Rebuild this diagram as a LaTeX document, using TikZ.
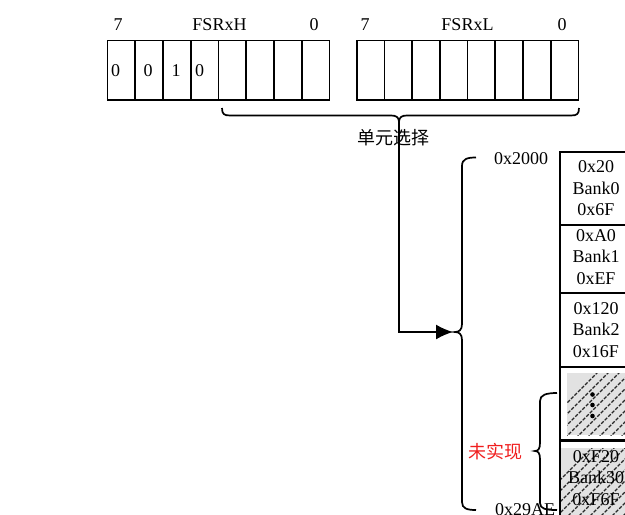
\documentclass[tikz,border=0pt]{standalone}
\usepackage{fontspec}
\setmainfont{Liberation Serif}
\newfontfamily\cjk{Noto Sans CJK SC}
\usetikzlibrary{arrows.meta}
\definecolor{hatchbg}{RGB}{226,226,226}
\definecolor{hatchln}{RGB}{40,40,40}
\definecolor{redtxt}{RGB}{240,30,30}
\begin{document}
\begin{tikzpicture}[x=1pt,y=-1pt,line width=1.7pt,
  txt/.style={inner sep=0pt,font=\fontsize{18}{21}\selectfont},
  cn/.style={inner sep=0pt,font=\cjk\fontsize{18}{21}\selectfont},
  cell/.style={draw,line width=1.7pt,minimum width=27.75pt,minimum height=59.5pt,anchor=north west,inner sep=0pt,outer sep=0pt},
  bankbox/.style={draw,line width=1.9pt,minimum width=72pt,anchor=north west,inner sep=0pt,outer sep=0pt},
  banktxt/.style={inner sep=0pt,align=center,font=\fontsize{18}{21.5}\selectfont},
  hatchline/.style={hatchln,line width=1.1pt,dash pattern=on 3.5pt off 1.5pt},
  brace/.style={line width=1.7pt}]
\useasboundingbox (0,0) rectangle (625,515);

% register cells
\foreach \i in {0,...,7}{
  \node[cell] (h\i) at ({107.5+27.75*\i},40.5) {};
  \node[cell] (l\i) at ({356.7+27.7*\i},40.5) {};
}
% register labels
\node[txt] (h7lab) at (118,25) {7};
\node[txt] (hname) at (219.5,25) {FSRxH};
\node[txt] (h0lab) at (314,25) {0};
\node[txt] (l7lab) at (365,25) {7};
\node[txt] (lname) at (467.5,25) {FSRxL};
\node[txt] (l0lab) at (562,25) {0};
% bit values
\node[txt] (b7) at (115.5,71) {0};
\node[txt] (b6) at (148,71) {0};
\node[txt] (b5) at (176,71) {1};
\node[txt] (b4) at (199.5,71) {0};

% brace under register
\draw[brace] (222,108) .. controls (222,114) and (224,115.5) .. (230,115.5) -- (391,115.5)
  .. controls (396,115.5) and (399,117) .. (399,122)
  .. controls (399,117) and (402,115.5) .. (407,115.5) -- (571,115.5)
  .. controls (577,115.5) and (579,114) .. (579,108);
\coordinate (regtip) at (399,122);
\node[cn] (sel) at (393,138) {单元选择};

% big brace
\draw[brace] (476,157.5) .. controls (467,157.5) and (462,159) .. (462,166) -- (462,324)
  .. controls (462,330) and (459,332) .. (455,332)
  .. controls (459,332) and (462,334) .. (462,340) -- (462,502)
  .. controls (462,508.5) and (467,510) .. (476,510);
\coordinate (arrowend) at (453,332);
\draw[-{Latex[length=17pt,width=15pt]}] (regtip) |- (arrowend);

\node[txt] (a2000) at (521,159) {0x2000};
\node[txt] (a29ae) at (525,510) {0x29AE};

% memory column
\node[bankbox,minimum height=73pt] (bank0) at (560,152) {};
\node[banktxt] (t0) at (596,188.5) {0x20\\Bank0\\0x6F};
\node[bankbox,minimum height=68pt] (bank1) at (560,225) {};
\node[banktxt] (t1) at (596,257) {0xA0\\Bank1\\0xEF};
\node[bankbox,minimum height=74pt] (bank2) at (560,293) {};
\node[banktxt] (t2) at (596,330) {0x120\\Bank2\\0x16F};
\node[bankbox,minimum height=73pt] (bankx) at (560,367) {};
\node[bankbox,minimum height=120pt] (bank30) at (560,440) {};
\draw[line width=2.8pt] (bank2.south west) -- ++(80,0);
\draw[line width=2.8pt] (560,441) -- ++(80,0);

% hatched unimplemented area
\begin{scope}
  \clip (567,373) rectangle (640,435);
  \fill[hatchbg] (567,373) rectangle (640,435);
  \foreach \k in {0,...,14}{
    \draw[hatchline] ({525+11*\k},445) -- ++(80,-80);
  }
\end{scope}
\fill (592.5,394.5) circle (2.3pt);
\fill (592.5,405) circle (2.3pt);
\fill (592.5,416) circle (2.3pt);
\begin{scope}
  \clip (561,448) rectangle (640,520);
  \fill[hatchbg] (561,448) rectangle (640,520);
  \foreach \k in {0,...,16}{
    \draw[hatchline] ({510+11*\k},530) -- ++(100,-100);
  }
\end{scope}
\node[banktxt] (t30) at (596,478) {0xF20\\Bank30\\0xF6F};

% small brace
\draw[brace] (557,393) .. controls (546,393) and (540,395) .. (540,401) -- (540,443)
  .. controls (540,449) and (538,451) .. (535,451)
  .. controls (538,451) and (540,453) .. (540,459) -- (540,503)
  .. controls (540,509) and (546,510) .. (557,510);
\node[cn,text=redtxt] (unimpl) at (495,452) {未实现};
\end{tikzpicture}
\end{document}
